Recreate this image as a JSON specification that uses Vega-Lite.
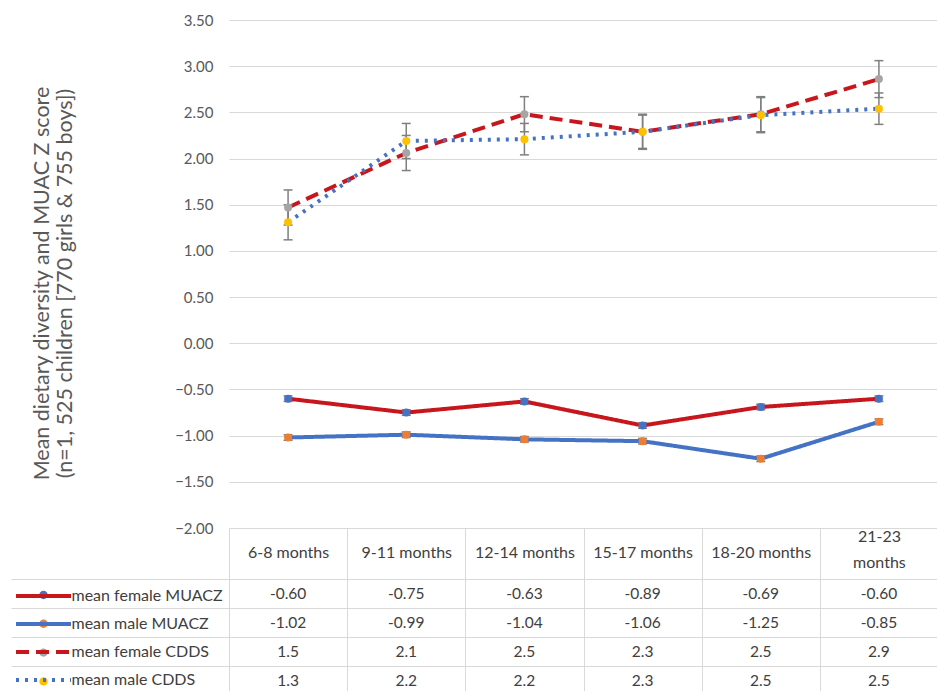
{
  "$schema": "https://vega.github.io/schema/vega-lite/v6.json",
  "background": "white",
  "padding": {"left": 10, "top": 13, "right": 0, "bottom": 0},
  "bounds": "flush",
  "spacing": 51,
  "resolve": {"scale": {"fill": "independent"}, "legend": {"fill": "independent"}},
  "config": {"view": {"stroke": null}, "font": "Lato", "legend": {"padding": 0}},
  "datasets": {
    "plot": [
      {"series": "mean female MUACZ", "age": "6-8 months", "mean": -0.60, "lo": -0.63, "hi": -0.57},
      {"series": "mean female MUACZ", "age": "9-11 months", "mean": -0.75, "lo": -0.78, "hi": -0.72},
      {"series": "mean female MUACZ", "age": "12-14 months", "mean": -0.63, "lo": -0.66, "hi": -0.60},
      {"series": "mean female MUACZ", "age": "15-17 months", "mean": -0.89, "lo": -0.92, "hi": -0.86},
      {"series": "mean female MUACZ", "age": "18-20 months", "mean": -0.69, "lo": -0.72, "hi": -0.66},
      {"series": "mean female MUACZ", "age": "21-23 months", "mean": -0.60, "lo": -0.63, "hi": -0.57},
      {"series": "mean male MUACZ", "age": "6-8 months", "mean": -1.02, "lo": -1.05, "hi": -0.99},
      {"series": "mean male MUACZ", "age": "9-11 months", "mean": -0.99, "lo": -1.02, "hi": -0.96},
      {"series": "mean male MUACZ", "age": "12-14 months", "mean": -1.04, "lo": -1.07, "hi": -1.01},
      {"series": "mean male MUACZ", "age": "15-17 months", "mean": -1.06, "lo": -1.09, "hi": -1.03},
      {"series": "mean male MUACZ", "age": "18-20 months", "mean": -1.25, "lo": -1.28, "hi": -1.22},
      {"series": "mean male MUACZ", "age": "21-23 months", "mean": -0.85, "lo": -0.88, "hi": -0.82},
      {"series": "mean female CDDS", "age": "6-8 months", "mean": 1.47, "lo": 1.28, "hi": 1.66},
      {"series": "mean female CDDS", "age": "9-11 months", "mean": 2.06, "lo": 1.87, "hi": 2.25},
      {"series": "mean female CDDS", "age": "12-14 months", "mean": 2.48, "lo": 2.29, "hi": 2.67},
      {"series": "mean female CDDS", "age": "15-17 months", "mean": 2.29, "lo": 2.10, "hi": 2.48},
      {"series": "mean female CDDS", "age": "18-20 months", "mean": 2.48, "lo": 2.29, "hi": 2.67},
      {"series": "mean female CDDS", "age": "21-23 months", "mean": 2.86, "lo": 2.66, "hi": 3.06},
      {"series": "mean male CDDS", "age": "6-8 months", "mean": 1.31, "lo": 1.12, "hi": 1.50},
      {"series": "mean male CDDS", "age": "9-11 months", "mean": 2.19, "lo": 2.00, "hi": 2.38},
      {"series": "mean male CDDS", "age": "12-14 months", "mean": 2.21, "lo": 2.04, "hi": 2.38},
      {"series": "mean male CDDS", "age": "15-17 months", "mean": 2.29, "lo": 2.11, "hi": 2.47},
      {"series": "mean male CDDS", "age": "18-20 months", "mean": 2.47, "lo": 2.28, "hi": 2.66},
      {"series": "mean male CDDS", "age": "21-23 months", "mean": 2.54, "lo": 2.37, "hi": 2.71}
    ],
    "table": [
      {"series": "mean female MUACZ", "age": "6-8 months", "value": "-0.60"},
      {"series": "mean female MUACZ", "age": "9-11 months", "value": "-0.75"},
      {"series": "mean female MUACZ", "age": "12-14 months", "value": "-0.63"},
      {"series": "mean female MUACZ", "age": "15-17 months", "value": "-0.89"},
      {"series": "mean female MUACZ", "age": "18-20 months", "value": "-0.69"},
      {"series": "mean female MUACZ", "age": "21-23 months", "value": "-0.60"},
      {"series": "mean male MUACZ", "age": "6-8 months", "value": "-1.02"},
      {"series": "mean male MUACZ", "age": "9-11 months", "value": "-0.99"},
      {"series": "mean male MUACZ", "age": "12-14 months", "value": "-1.04"},
      {"series": "mean male MUACZ", "age": "15-17 months", "value": "-1.06"},
      {"series": "mean male MUACZ", "age": "18-20 months", "value": "-1.25"},
      {"series": "mean male MUACZ", "age": "21-23 months", "value": "-0.85"},
      {"series": "mean female CDDS", "age": "6-8 months", "value": "1.5"},
      {"series": "mean female CDDS", "age": "9-11 months", "value": "2.1"},
      {"series": "mean female CDDS", "age": "12-14 months", "value": "2.5"},
      {"series": "mean female CDDS", "age": "15-17 months", "value": "2.3"},
      {"series": "mean female CDDS", "age": "18-20 months", "value": "2.5"},
      {"series": "mean female CDDS", "age": "21-23 months", "value": "2.9"},
      {"series": "mean male CDDS", "age": "6-8 months", "value": "1.3"},
      {"series": "mean male CDDS", "age": "9-11 months", "value": "2.2"},
      {"series": "mean male CDDS", "age": "12-14 months", "value": "2.2"},
      {"series": "mean male CDDS", "age": "15-17 months", "value": "2.3"},
      {"series": "mean male CDDS", "age": "18-20 months", "value": "2.5"},
      {"series": "mean male CDDS", "age": "21-23 months", "value": "2.5"}
    ]
  },
  "vconcat": [
    {
      "width": 709,
      "height": 508,
      "data": {"name": "plot"},
      "encoding": {
        "x": {
          "field": "age", "type": "nominal", "sort": null,
          "scale": {"domain": ["6-8 months", "9-11 months", "12-14 months", "15-17 months", "18-20 months", "21-23 months"], "paddingInner": 0, "paddingOuter": 0},
          "axis": {
            "title": null, "orient": "bottom", "domain": false, "ticks": true, "tickBand": "extent", "tickSize": 51,
            "tickColor": "#d9d9d9", "tickWidth": 1, "grid": false, "labelAngle": 0, "labelFontSize": 16,
            "labelColor": "#404040", "labelBaseline": "middle", "labelLineHeight": 26,
            "labelPadding": {"condition": {"test": "datum.label == '21-23 months'", "value": -43}, "value": -27},
            "labelExpr": "datum.label == '21-23 months' ? ['21-23', 'months'] : datum.label"
          }
        }
      },
      "layer": [
        {
          "mark": {"type": "line", "strokeWidth": 4, "strokeCap": "butt"},
          "encoding": {
            "y": {
              "field": "mean", "type": "quantitative",
              "scale": {"domain": [-2, 3.5], "nice": false, "zero": false},
              "axis": {
                "title": ["Mean dietary diversity and  MUAC Z score", "(n=1, 525 children [770 girls & 755 boys])"],
                "values": [-2, -1.5, -1, -0.5, 0, 0.5, 1, 1.5, 2, 2.5, 3, 3.5],
                "format": ".2f", "domain": false, "ticks": false, "labelPadding": 16, "labelFontSize": 15,
                "labelColor": "#595959", "gridColor": "#d9d9d9", "titleFontSize": 21.5, "titleFontWeight": "normal",
                "titleColor": "#595959", "titlePadding": 98, "titleLineHeight": 23, "titleY": 263
              }
            },
            "stroke": {
              "field": "series", "type": "nominal",
              "scale": {"domain": ["mean female MUACZ", "mean male MUACZ", "mean female CDDS", "mean male CDDS"], "range": ["#C8161D", "#4472C4", "#C8161D", "#4472C4"]},
              "legend": {"orient": "none", "legendX": -213, "legendY": 564, "title": null, "symbolType": "M-2.75,0H2.75", "symbolSize": 400, "symbolStrokeWidth": 4, "symbolOffset": 15.5, "labelFontSize": 16, "labelColor": "#404040", "labelOffset": 16, "rowPadding": 8, "labelLimit": 300}
            },
            "strokeDash": {
              "field": "series", "type": "nominal",
              "scale": {"domain": ["mean female MUACZ", "mean male MUACZ", "mean female CDDS", "mean male CDDS"], "range": [[1, 0], [1, 0], [13, 7], [3, 6]]},
              "legend": {"orient": "none", "legendX": -213, "legendY": 564, "title": null, "symbolType": "M-2.75,0H2.75", "symbolSize": 400, "symbolStrokeWidth": 4, "symbolOffset": 15.5, "labelFontSize": 16, "labelColor": "#404040", "labelOffset": 16, "rowPadding": 8, "labelLimit": 300}
            },
            "order": {"value": null}
          }
        },
        {
          "mark": {"type": "rule", "color": "#7f7f7f", "strokeWidth": 1.5},
          "encoding": {
            "y": {"field": "lo", "type": "quantitative"},
            "y2": {"field": "hi"}
          }
        },
        {
          "mark": {"type": "tick", "color": "#7f7f7f", "orient": "horizontal", "size": 9, "thickness": 1.5, "opacity": 1},
          "encoding": {"y": {"field": "lo", "type": "quantitative"}}
        },
        {
          "mark": {"type": "tick", "color": "#7f7f7f", "orient": "horizontal", "size": 9, "thickness": 1.5, "opacity": 1},
          "encoding": {"y": {"field": "hi", "type": "quantitative"}}
        },
        {
          "mark": {"type": "point", "filled": true, "size": 64, "opacity": 1},
          "encoding": {
            "y": {"field": "mean", "type": "quantitative"},
            "fill": {
              "field": "series", "type": "nominal",
              "scale": {"domain": ["mean female MUACZ", "mean male MUACZ", "mean female CDDS", "mean male CDDS"], "range": ["#4472C4", "#ED7D31", "#A5A5A5", "#FFC000"]},
              "legend": null
            }
          }
        }
      ]
    },
    {
      "width": 709,
      "height": 116,
      "data": {"name": "table"},
      "encoding": {
        "x": {
          "field": "age", "type": "nominal", "sort": null,
          "scale": {"domain": ["6-8 months", "9-11 months", "12-14 months", "15-17 months", "18-20 months", "21-23 months"], "paddingInner": 0, "paddingOuter": 0},
          "axis": {"title": null, "orient": "top", "labels": false, "ticks": false, "domain": false, "grid": true, "tickBand": "extent", "gridColor": "#d9d9d9"}
        },
        "y": {
          "field": "series", "type": "nominal", "sort": null,
          "scale": {"domain": ["mean female MUACZ", "mean male MUACZ", "mean female CDDS", "mean male CDDS"], "paddingInner": 0, "paddingOuter": 0},
          "axis": {"title": null, "labels": false, "ticks": true, "tickSize": 218, "tickBand": "extent", "tickColor": "#d9d9d9", "grid": true, "gridColor": "#d9d9d9", "domain": false}
        }
      },
      "layer": [
        {
          "mark": {"type": "text", "fontSize": 15.5, "color": "#404040"},
          "encoding": {"text": {"field": "value", "type": "nominal"}}
        },
        {
          "mark": {"type": "point", "filled": true, "size": 64, "opacity": 0},
          "encoding": {
            "fill": {
              "field": "series", "type": "nominal",
              "scale": {"domain": ["mean female MUACZ", "mean male MUACZ", "mean female CDDS", "mean male CDDS"], "range": ["#4472C4", "#ED7D31", "#A5A5A5", "#FFC000"]},
              "legend": {"orient": "none", "legendX": -213, "legendY": 4, "title": null, "symbolType": "M-2.75,0H2.75M0.42,0A0.42,0.42,0,1,1,-0.42,0A0.42,0.42,0,1,1,0.42,0Z", "symbolSize": 400, "symbolStrokeWidth": 4, "symbolOffset": 15.5, "symbolStrokeColor": "transparent", "symbolOpacity": 1, "labelFontSize": 16, "labelColor": "transparent", "labelOffset": 16, "rowPadding": 2.8, "labelLimit": 300}
            }
          }
        }
      ]
    }
  ]
}
